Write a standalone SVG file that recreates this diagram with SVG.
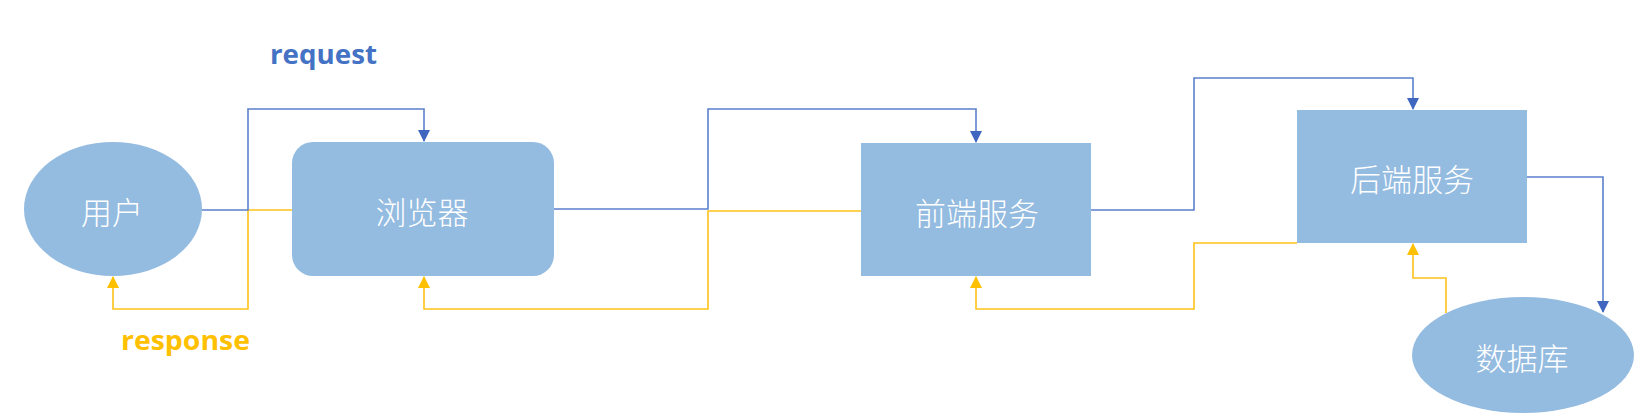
<svg xmlns="http://www.w3.org/2000/svg" width="1649" height="418" viewBox="0 0 1649 418">
<style>
.node{fill:#94BBE0}
.lbl{fill:#ffffff;font-family:"Noto Sans CJK SC","Noto Sans",sans-serif;font-size:31px;font-weight:300;text-anchor:middle;dominant-baseline:central}
.req{fill:none;stroke:#5B80CE;stroke-width:1.6}
.res{fill:none;stroke:#FFC21A;stroke-width:1.6}
.cap{font-family:"Open Sans","Liberation Sans",sans-serif;font-size:27px;font-weight:bold}
</style>
<defs>
<marker id="ab" markerWidth="12" markerHeight="12" viewBox="0 0 12 12" refX="11" refY="6" orient="auto" markerUnits="userSpaceOnUse"><path d="M0,0 L12,6 L0,12 z" fill="#3F67C0"/></marker>
<marker id="ay" markerWidth="12" markerHeight="12" viewBox="0 0 12 12" refX="11" refY="6" orient="auto" markerUnits="userSpaceOnUse"><path d="M0,0 L12,6 L0,12 z" fill="#FFC000"/></marker>
</defs>
<g id="connectors">
<path class="res" d="M292,210 H248 V309 H113 V277" marker-end="url(#ay)"/>
<path class="res" d="M861,211 H708 V309 H424 V277" marker-end="url(#ay)"/>
<path class="res" d="M1297,243 H1194 V309 H976 V277" marker-end="url(#ay)"/>
<path class="res" d="M1446,313 V278 H1413 V244" marker-end="url(#ay)"/>
<path class="req" d="M202,210 H248 V109 H424 V141" marker-end="url(#ab)"/>
<path class="req" d="M554,209 H708 V109 H976 V142" marker-end="url(#ab)"/>
<path class="req" d="M1091,210 H1194 V78 H1413 V109" marker-end="url(#ab)"/>
<path class="req" d="M1527,177 H1603 V312" marker-end="url(#ab)"/>
</g>
<g id="user"><ellipse class="node" cx="113" cy="209" rx="89" ry="67"/><text class="lbl" x="112" y="210">用户</text></g>
<g id="browser"><rect class="node" x="292" y="142" width="262" height="134" rx="21"/><text class="lbl" x="422" y="210">浏览器</text></g>
<g id="frontend"><rect class="node" x="861" y="143" width="230" height="133"/><text class="lbl" x="977" y="211">前端服务</text></g>
<g id="backend"><rect class="node" x="1297" y="110" width="230" height="133"/><text class="lbl" x="1412" y="177">后端服务</text></g>
<g id="database"><ellipse class="node" cx="1523" cy="355" rx="111" ry="58"/><text class="lbl" x="1522" y="356">数据库</text></g>
<text class="cap" x="270" y="64" fill="#4472C4" textLength="107" lengthAdjust="spacingAndGlyphs">request</text>
<text class="cap" x="121" y="350" fill="#FFC000" textLength="129" lengthAdjust="spacingAndGlyphs">response</text>
</svg>
